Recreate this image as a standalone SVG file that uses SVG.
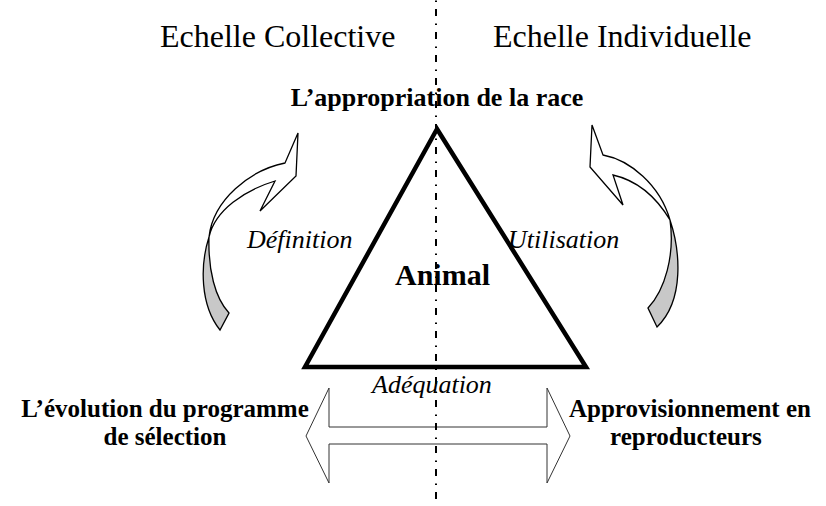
<svg xmlns="http://www.w3.org/2000/svg" width="826" height="506" viewBox="0 0 826 506">
<style>
.t{font-family:"Liberation Serif","Times New Roman",serif;fill:#000}
.big{font-size:32px}
.b{font-size:26px;font-weight:bold}
.b2{font-size:25px;font-weight:bold}
.i{font-size:26px;font-style:italic}
.front{fill:#fff;stroke:#000;stroke-width:1.3;stroke-linejoin:miter}
.back{fill:#c8c8c8;stroke:#000;stroke-width:1.3}
</style>
<rect width="826" height="506" fill="#fff"/>
<text class="t big" x="160" y="47">Echelle Collective</text>
<text class="t big" x="493" y="47">Echelle Individuelle</text>
<text class="t b" x="437" y="106" text-anchor="middle">L’appropriation de la race</text>
<g id="arrow-left">
<path class="back" d="M209,237 C200,265 200,305 220,330 L229,313 C215,298 208,270 209,237 Z"/>
<path class="front" d="M298,133 L296,176 L260,211 L275,181 C245,190 215,210 209,237 C213,200 250,170 285,163 Z"/>
</g>
<g id="arrow-right">
<path class="back" d="M670,220 C680,250 685,300 657,327 L648,308 C665,290 675,255 670,220 Z"/>
<path class="front" d="M592,125 L603,155 C630,160 660,185 670,220 C655,195 635,180 613,175 L623,205 L590,167 Z"/>
</g>
<g id="triangle">
<polygon points="437,129 305,367 586,367" fill="none" stroke="#000" stroke-width="4.5" stroke-linejoin="miter"/>
</g>
<text class="t" x="395" y="285" font-size="30" font-weight="bold">Animal</text>
<text class="t i" x="247" y="248">Définition</text>
<text class="t i" x="508" y="248">Utilisation</text>
<text class="t i" x="372" y="393">Adéquation</text>
<g id="double-arrow">
<polygon points="329,388 329,427 547,427 547,388 570,436 547,483 547,444 329,444 329,483 306,436" fill="#fff" stroke="#333" stroke-width="1"/>
</g>
<text class="t b2" x="165" y="417" text-anchor="middle">L’évolution du programme</text>
<text class="t b2" x="165" y="445" text-anchor="middle">de sélection</text>
<text class="t b2" x="569" y="417">Approvisionnement en</text>
<text class="t b2" x="610" y="445">reproducteurs</text>
<g id="connectors">
<line x1="436" y1="-14" x2="436" y2="506" stroke="#000" stroke-width="2" stroke-dasharray="7 7.5 1.5 7"/>
</g>
</svg>
